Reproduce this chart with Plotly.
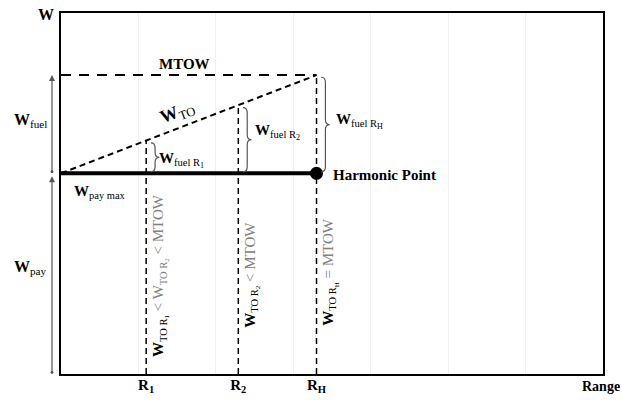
import plotly.graph_objects as go

# Range points: R1, R2 and the harmonic range RH
range_labels = ["R<sub>1</sub>", "R<sub>2</sub>", "R<sub>H</sub>"]
range_subs = ["1", "2", "H"]
range_values = [1.10, 2.29, 3.30]
# Take-off weight reached at each range
w_to_values = [3.23, 3.72, 4.14]
w_pay_max = 2.78
mtow = 4.14

x_max = 7
y_max = 5

FONT = "Liberation Serif"
GRAY = "#555555"
LIGHT = "#808080"

fig = go.Figure()

# MTOW limit
fig.add_trace(go.Scatter(
    x=[0, range_values[-1]], y=[mtow, mtow], mode="lines",
    line=dict(color="black", width=2, dash="10px,8px"), hoverinfo="skip"))

# take-off weight line
fig.add_trace(go.Scatter(
    x=[0, range_values[-1]], y=[w_pay_max, w_to_values[-1]], mode="lines",
    line=dict(color="black", width=2, dash="6px,4px"), hoverinfo="skip"))

# verticals at each range
for r, w in zip(range_values, w_to_values):
    fig.add_trace(go.Scatter(
        x=[r, r], y=[0, w], mode="lines",
        line=dict(color="black", width=1.5, dash="6px,4px"), hoverinfo="skip"))

# max payload line up to the harmonic point
fig.add_trace(go.Scatter(
    x=[0, range_values[-1]], y=[w_pay_max, w_pay_max], mode="lines",
    line=dict(color="black", width=4), hoverinfo="skip"))
fig.add_trace(go.Scatter(
    x=[range_values[-1]], y=[w_pay_max], mode="markers",
    marker=dict(color="black", size=13), hoverinfo="skip"))


def brace_path(x0, y0, y1, w=0.11, h=0.07):
    """Right-pointing curly brace from y0 (bottom) to y1 (top) at x0."""
    ym = (y0 + y1) / 2
    xm = x0 + w / 2
    return (f"M {x0},{y0} Q {xm},{y0} {xm},{y0 + h} "
            f"L {xm},{ym - h} Q {xm},{ym} {x0 + w},{ym} "
            f"Q {xm},{ym} {xm},{ym + h} "
            f"L {xm},{y1 - h} Q {xm},{y1} {x0},{y1}")


for r, w in zip(range_values, w_to_values):
    fig.add_shape(type="path", path=brace_path(r + 0.06, w_pay_max + 0.02, w - 0.03),
                  xref="x", yref="y", line=dict(color=GRAY, width=1.2))

# left-side weight arrows
for y_tail, y_head in [(0, w_pay_max - 0.04), (w_pay_max, mtow)]:
    fig.add_annotation(
        x=-0.0166, xref="paper", y=y_head, yref="y",
        ax=0, axref="pixel", ay=y_tail, ayref="y",
        showarrow=True, arrowhead=2, arrowsize=1, arrowwidth=1.2,
        arrowcolor=GRAY, arrowside="end+start", startarrowhead=6,
        startarrowsize=0.6, text="")


def label(text, x, y, xref="x", yref="y", size=15, angle=0, xshift=0, yshift=0,
          xanchor="center", yanchor="middle"):
    fig.add_annotation(x=x, y=y, xref=xref, yref=yref, text=text, showarrow=False,
                       font=dict(family=FONT, size=size, color="black"),
                       textangle=angle, xshift=xshift, yshift=yshift,
                       xanchor=xanchor, yanchor=yanchor)


def sub2(base, mid, s, px=8):
    """Two-level subscript, e.g. W_{fuel R_1}."""
    return f"{base}<sub>{mid}<sub><span style='font-size:{px}px'>{s}</span></sub></sub>"


# axis titles
label("<b>W</b>", -0.027, 1.0, xref="paper", yref="paper", size=16, yshift=-1)
label("<b>Range</b>", 1.035, -0.036, xref="paper", yref="paper", size=14,
      xanchor="right", yanchor="middle")

# left annotations
label("<b>W</b><sub>fuel</sub>", -0.056, (w_pay_max + mtow) / 2, xref="paper", size=16, yshift=4)
label("<b>W</b><sub>pay</sub>", -0.056, w_pay_max / 2, xref="paper", size=16, yshift=6)

label("<b>MTOW</b>", 1.6, mtow, size=15, yshift=11)
label("<b>W</b><sub>TO</sub>", 1.51, 3.62, size=18, angle=-21)
label("<b>W</b><sub>pay max</sub>", 0.5, w_pay_max, size=15, yshift=-19)
label("<b>Harmonic Point</b>", range_values[-1], w_pay_max, size=15,
      xanchor="left", xshift=14, yshift=-2)

label(sub2("<b>W</b>", "fuel R", range_subs[0]), range_values[0] + 0.46, 3.0, size=15, yshift=-3)
label(sub2("<b>W</b>", "fuel R", range_subs[1]), range_values[1] + 0.5, 3.25, size=15, yshift=7)
label(sub2("<b>W</b>", "fuel R", range_subs[2]), range_values[2] + 0.56, 3.45, size=15, yshift=4)

# rotated conditions along each vertical
cond = [
    sub2("<b>W</b>", "TO R", range_subs[0], 7)
    + f"<span style='color:{LIGHT}'> &lt; W<sub>TO R<sub><span style='font-size:7px'>2</span></sub></sub> &lt; MTOW</span>",
    sub2("<b>W</b>", "TO R", range_subs[1], 7)
    + f"<span style='color:{LIGHT}'> &lt; MTOW</span>",
    sub2("<b>W</b>", "TO R", range_subs[2], 7)
    + f"<span style='color:{LIGHT}'> = MTOW</span>",
]
cond_y = [1.36, 1.38, 1.41]
for r, t, cy in zip(range_values, cond, cond_y):
    label(t, r, cy, size=15, angle=-90, xshift=14)

fig.update_layout(
    width=622, height=400,
    margin=dict(l=61, r=19, t=13, b=26, autoexpand=False),
    paper_bgcolor="white", plot_bgcolor="white",
    showlegend=False,
    font=dict(family=FONT, color="black"),
    xaxis=dict(
        range=[0, x_max], showgrid=False, zeroline=False, automargin=False,
        tickmode="array", tickvals=range_values, ticktext=[f"<b>{t}</b>" for t in range_labels],
        tickfont=dict(family=FONT, size=15, color="black"), ticks="",
        ticklabelstandoff=-4,
        showline=True, mirror=True, linecolor="black", linewidth=2,
        minor=dict(tickmode="linear", tick0=0, dtick=1, showgrid=True,
                   gridcolor="#efefef", gridwidth=1, ticks=""),
    ),
    yaxis=dict(
        range=[0, y_max], showgrid=False, zeroline=False, showticklabels=False,
        automargin=False,
        ticks="", showline=True, mirror=True, linecolor="black", linewidth=2,
        minor=dict(tickmode="linear", tick0=0, dtick=1, showgrid=True,
                   gridcolor="#efefef", gridwidth=1, ticks=""),
    ),
)

fig.write_html("out.html")
